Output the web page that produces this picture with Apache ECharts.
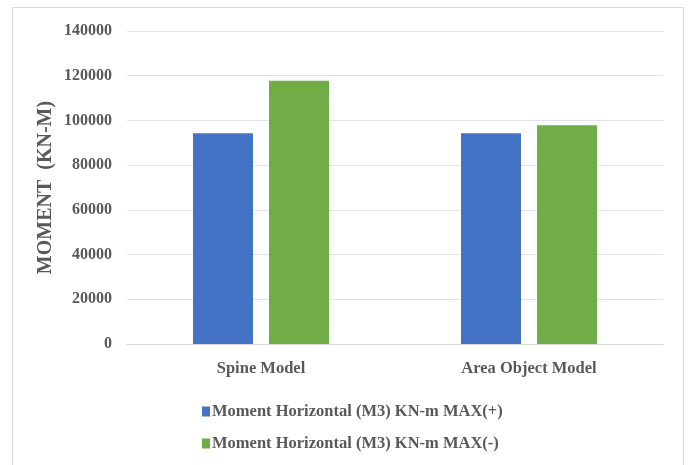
<!DOCTYPE html>
<html>
<head>
<meta charset="utf-8">
<script src="https://cdn.jsdelivr.net/npm/echarts@6/dist/echarts.min.js"></script>
<style>html,body{margin:0;padding:0;background:#fff}#c{width:688px;height:465px}</style>
</head>
<body>
<div id="c"></div>
<script>
const categories = ['Spine Model', 'Area Object Model'];
const seriesNames = ['Moment Horizontal (M3) KN-m MAX(+)', 'Moment Horizontal (M3) KN-m MAX(-)'];
const maxPlus = [94300, 94300];
const maxMinus = [117800, 97800];
const yTicks = [0, 20000, 40000, 60000, 80000, 100000, 120000, 140000];

const font = '"Liberation Serif", "Times New Roman", serif';
const textColor = '#595959';
const chart = echarts.init(document.getElementById('c'), null, {renderer: 'canvas'});
chart.setOption({
  animation: false,
  backgroundColor: '#fff',
  graphic: [{
    type: 'rect', shape: {x: 12.5, y: 7.5, width: 671, height: 470},
    style: {fill: 'none', stroke: '#d9d9d9', lineWidth: 1}, silent: true, z: -1
  }],
  grid: {left: 127, right: 25, top: 31, bottom: 121},
  legend: {
    orient: 'vertical', left: 197, top: 398, itemGap: 15,
    itemWidth: 8, itemHeight: 10, icon: 'rect',
    textStyle: {fontFamily: font, fontWeight: 'bold', fontSize: 16.5, color: textColor, padding: [0, 0, 0, -3]},
    data: seriesNames
  },
  xAxis: {
    type: 'category', data: categories,
    axisLine: {lineStyle: {color: '#d9d9d9'}},
    axisTick: {show: false},
    axisLabel: {fontFamily: font, fontWeight: 'bold', fontSize: 16.5, color: textColor, margin: 16}
  },
  yAxis: {
    type: 'value', min: yTicks[0], max: yTicks[yTicks.length - 1], interval: 20000,
    name: 'MOMENT  (KN-M)', nameLocation: 'middle', nameGap: 71, nameMoveOverlap: false,
    nameTextStyle: {fontFamily: font, fontWeight: 'bold', fontSize: 20, color: textColor},
    axisLine: {show: false}, axisTick: {show: false},
    splitLine: {lineStyle: {color: '#e3e3e3', width: 1}},
    axisLabel: {fontFamily: font, fontWeight: 'bold', fontSize: 16, color: textColor, margin: 15,
      formatter: function (v) { return String(v); }}
  },
  series: [
    {name: seriesNames[0], type: 'bar', data: maxPlus, barWidth: 60, barGap: '26.7%',
     itemStyle: {color: '#4472C4'}},
    {name: seriesNames[1], type: 'bar', data: maxMinus, barWidth: 60,
     itemStyle: {color: '#70AD47'}}
  ]
});
</script>
</body>
</html>
